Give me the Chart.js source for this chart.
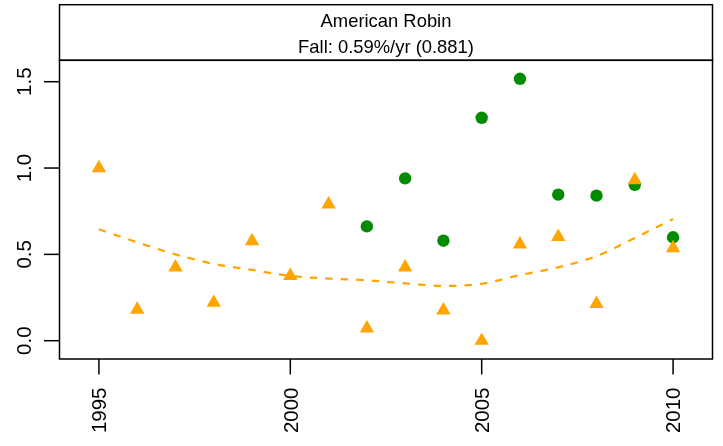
<!DOCTYPE html>
<html>
<head>
<meta charset="utf-8">
<script src="https://cdn.jsdelivr.net/npm/chart.js@4/dist/chart.umd.min.js"></script>
<style>
  html, body { margin: 0; padding: 0; background: #ffffff; }
  canvas { display: block; }
</style>
</head>
<body>
<canvas id="c" width="723" height="446"></canvas>
<script>
// Survey years and the yearly index values
const years = [1995, 1996, 1997, 1998, 1999, 2000, 2001, 2002, 2003, 2004, 2005, 2006, 2007, 2008, 2009, 2010];
const fallValues = [1.00, 0.18, 0.425, 0.22, 0.577, 0.376, 0.79, 0.072, 0.425, 0.176, 0.0, 0.558, 0.602, 0.214, 0.93, 0.537];
const greenYears = [2002, 2003, 2004, 2005, 2006, 2007, 2008, 2009, 2010];
const greenValues = [0.662, 0.94, 0.579, 1.291, 1.517, 0.846, 0.84, 0.903, 0.599];
// Smoothed fall trend
const trendValues = [0.645, 0.57, 0.50, 0.445, 0.41, 0.375, 0.36, 0.35, 0.332, 0.317, 0.33, 0.38, 0.425, 0.49, 0.595, 0.705];
// Axis ticks
const xTicks = [1995, 2000, 2005, 2010];
const yTicks = [0.0, 0.5, 1.0, 1.5];
const yTickLabels = ['0.0', '0.5', '1.0', '1.5'];
const titleLines = ['American Robin', 'Fall: 0.59%/yr (0.881)'];

const TITLE_FONT = '18.4px "Liberation Sans", Arial, sans-serif';
const AXIS_FONT = '20.5px "Liberation Sans", Arial, sans-serif';
const ORANGE = '#FFA500';
const GREEN = '#008B00';

const frame = {
  id: 'frame',
  afterDatasetsDraw(chart) {
    const ctx = chart.ctx;
    const a = chart.chartArea;
    const xs = chart.scales.x, ys = chart.scales.y;
    ctx.save();
    ctx.strokeStyle = '#000';
    ctx.lineWidth = 1.5;
    // plot box
    ctx.strokeRect(a.left, a.top, a.right - a.left, a.bottom - a.top);
    // header strip
    const stripTop = 4.7;
    ctx.strokeRect(a.left, stripTop, a.right - a.left, a.top - stripTop);
    ctx.fillStyle = '#000';
    ctx.font = TITLE_FONT;
    ctx.textAlign = 'center';
    ctx.textBaseline = 'alphabetic';
    const cx = (a.left + a.right) / 2;
    ctx.fillText(titleLines[0], cx, 26.6);
    ctx.fillText(titleLines[1], cx, 52.6);

    // x axis ticks and rotated labels
    ctx.font = AXIS_FONT;
    const tickLen = 15.5;
    xTicks.forEach(v => {
      const px = xs.getPixelForValue(v);
      ctx.beginPath();
      ctx.moveTo(px, a.bottom);
      ctx.lineTo(px, a.bottom + tickLen);
      ctx.stroke();
      ctx.save();
      ctx.translate(px, a.bottom + 28.5);
      ctx.rotate(-Math.PI / 2);
      ctx.textAlign = 'right';
      ctx.textBaseline = 'alphabetic';
      ctx.fillText(String(v), 0, 7.3);
      ctx.restore();
    });

    // y axis ticks and rotated labels
    yTicks.forEach((v, i) => {
      const py = ys.getPixelForValue(v);
      ctx.beginPath();
      ctx.moveTo(a.left, py);
      ctx.lineTo(a.left - tickLen, py);
      ctx.stroke();
      ctx.save();
      ctx.translate(30.5, py);
      ctx.rotate(-Math.PI / 2);
      ctx.textAlign = 'center';
      ctx.textBaseline = 'alphabetic';
      ctx.fillText(yTickLabels[i], 0, 0);
      ctx.restore();
    });
    ctx.restore();
  }
};

new Chart(document.getElementById('c'), {
  type: 'scatter',
  data: {
    datasets: [
      {
        label: 'fall',
        data: years.map((y, i) => ({ x: y, y: fallValues[i] })),
        pointStyle: 'triangle',
        pointRadius: 8.3,
        pointHoverRadius: 8.3,
        backgroundColor: ORANGE,
        borderWidth: 0,
        showLine: false,
        order: 0
      },
      {
        label: 'green',
        data: greenYears.map((y, i) => ({ x: y, y: greenValues[i] })),
        pointStyle: 'circle',
        pointRadius: 6.2,
        pointHoverRadius: 6.2,
        backgroundColor: GREEN,
        borderWidth: 0,
        showLine: false,
        order: 1
      },
      {
        label: 'trend',
        data: years.map((y, i) => ({ x: y, y: trendValues[i] })),
        showLine: true,
        borderColor: ORANGE,
        borderWidth: 2.2,
        borderDash: [7.5, 8],
        pointRadius: 0,
        fill: false,
        cubicInterpolationMode: 'monotone',
        order: 2
      }
    ]
  },
  options: {
    responsive: false,
    animation: false,
    devicePixelRatio: 1,
    layout: { padding: { left: 59.5, top: 60.3, right: 10.5, bottom: 87 } },
    plugins: { legend: { display: false }, tooltip: { enabled: false }, title: { display: false } },
    events: [],
    scales: {
      x: { type: 'linear', min: 1993.97, max: 2011.03, display: false },
      y: { type: 'linear', min: -0.106, max: 1.624, display: false }
    }
  },
  plugins: [frame]
});
</script>
</body>
</html>
